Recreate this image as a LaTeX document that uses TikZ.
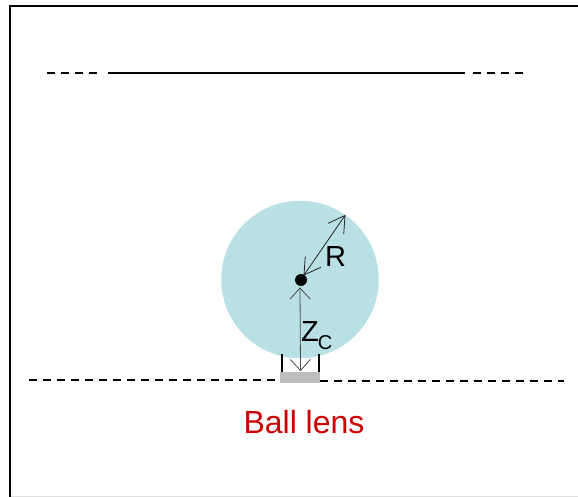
\documentclass[tikz,border=0pt]{standalone}
\usepackage{fontspec}
\setmainfont{Liberation Sans}
\definecolor{lensblue}{HTML}{B9E0E4}
\definecolor{mountgray}{HTML}{BEBEBE}
\definecolor{labelred}{HTML}{CC0000}
\pgfarrowsdeclare{wing}{wing}
{\pgfarrowsleftextend{-11pt}\pgfarrowsrightextend{0pt}}
{\pgfsetdash{}{0pt}\pgfsetroundcap\pgfsetlinewidth{0.8pt}
 \pgfpathmoveto{\pgfpoint{-11pt}{10pt}}
 \pgfpathlineto{\pgfpoint{0pt}{0pt}}
 \pgfpathlineto{\pgfpoint{-11pt}{-10pt}}
 \pgfusepathqstroke}
\pgfarrowsdeclare{longwing}{longwing}
{\pgfarrowsleftextend{-16pt}\pgfarrowsrightextend{0pt}}
{\pgfsetdash{}{0pt}\pgfsetroundcap\pgfsetlinewidth{0.8pt}
 \pgfpathmoveto{\pgfpoint{-16pt}{9.5pt}}
 \pgfpathlineto{\pgfpoint{0pt}{0pt}}
 \pgfpathlineto{\pgfpoint{-16pt}{-9.5pt}}
 \pgfusepathqstroke}
\tikzset{
  rule/.style={black,line width=1.8pt},
  frameline/.style={black,line width=2.2pt},
  dashrule/.style={black,line width=1.6pt,dash pattern=on 8pt off 6pt},
  dimline/.style={black!70,line width=0.8pt,wing-wing},
  radiusline/.style={black!85,line width=0.8pt,longwing-longwing},
  lbl/.style={inner sep=0pt,black,font=\fontsize{29}{30}\selectfont}
}
\begin{document}
\begin{tikzpicture}[x=1pt,y=-1pt]
\useasboundingbox (0,0) rectangle (578,497);
\draw[black!12,line width=1pt] (10,496) -- (578,496);
\draw[frameline] (578,6) -- (10,6) -- (10,497);
% top line
\coordinate (tl1) at (47,73); \coordinate (tl2) at (100,73);
\coordinate (ts1) at (108,73); \coordinate (ts2) at (465,73);
\coordinate (tr1) at (473,73); \coordinate (tr2) at (525,73);
\draw[dashrule] (tl1) -- (tl2);
\draw[rule] (ts1) -- (ts2);
\draw[dashrule] (tr1) -- (tr2);
% lens
\node[circle,fill=lensblue,minimum size=157.5pt,inner sep=0pt] (lens) at (300,279.5) {};
\node[circle,fill=black,minimum size=12pt,inner sep=0pt] (center) at (301,280) {};
% mount
\node[fill=mountgray,minimum width=40pt,minimum height=11pt,inner sep=0pt] (mount) at (300,377.5) {};
\coordinate (tickLtop) at (282,354); \coordinate (tickRtop) at (319,354);
\draw[rule] (tickLtop) -- (tickLtop |- mount.north);
\draw[rule] (tickRtop) -- (tickRtop |- mount.north);
% bottom line
\coordinate (bl) at (29,380); \coordinate (br) at (564,381);
\draw[dashrule] (bl) -- (mount.west |- bl);
\draw[dashrule] (mount.east |- br) -- (br);
% dimensions
\coordinate (zTop) at (300,288); \coordinate (zBot) at (300.5,370.5);
\coordinate (rIn) at (304,275); \coordinate (rOut) at (345,215.5);
\draw[dimline] (zTop) -- (zBot);
\draw[radiusline] (rIn) -- (rOut);
% labels
\node[lbl,anchor=base west] (r) at (325,266) {R};
\node[lbl,anchor=base west] (zc) at (301,341) {Z\kern-1pt\raisebox{-8pt}{\fontsize{20}{22}\selectfont C}};
\node[inner sep=0pt,text=labelred,font=\fontsize{32}{34}\selectfont,anchor=base] (title) at (304,433) {Ball lens};
\end{tikzpicture}
\end{document}
